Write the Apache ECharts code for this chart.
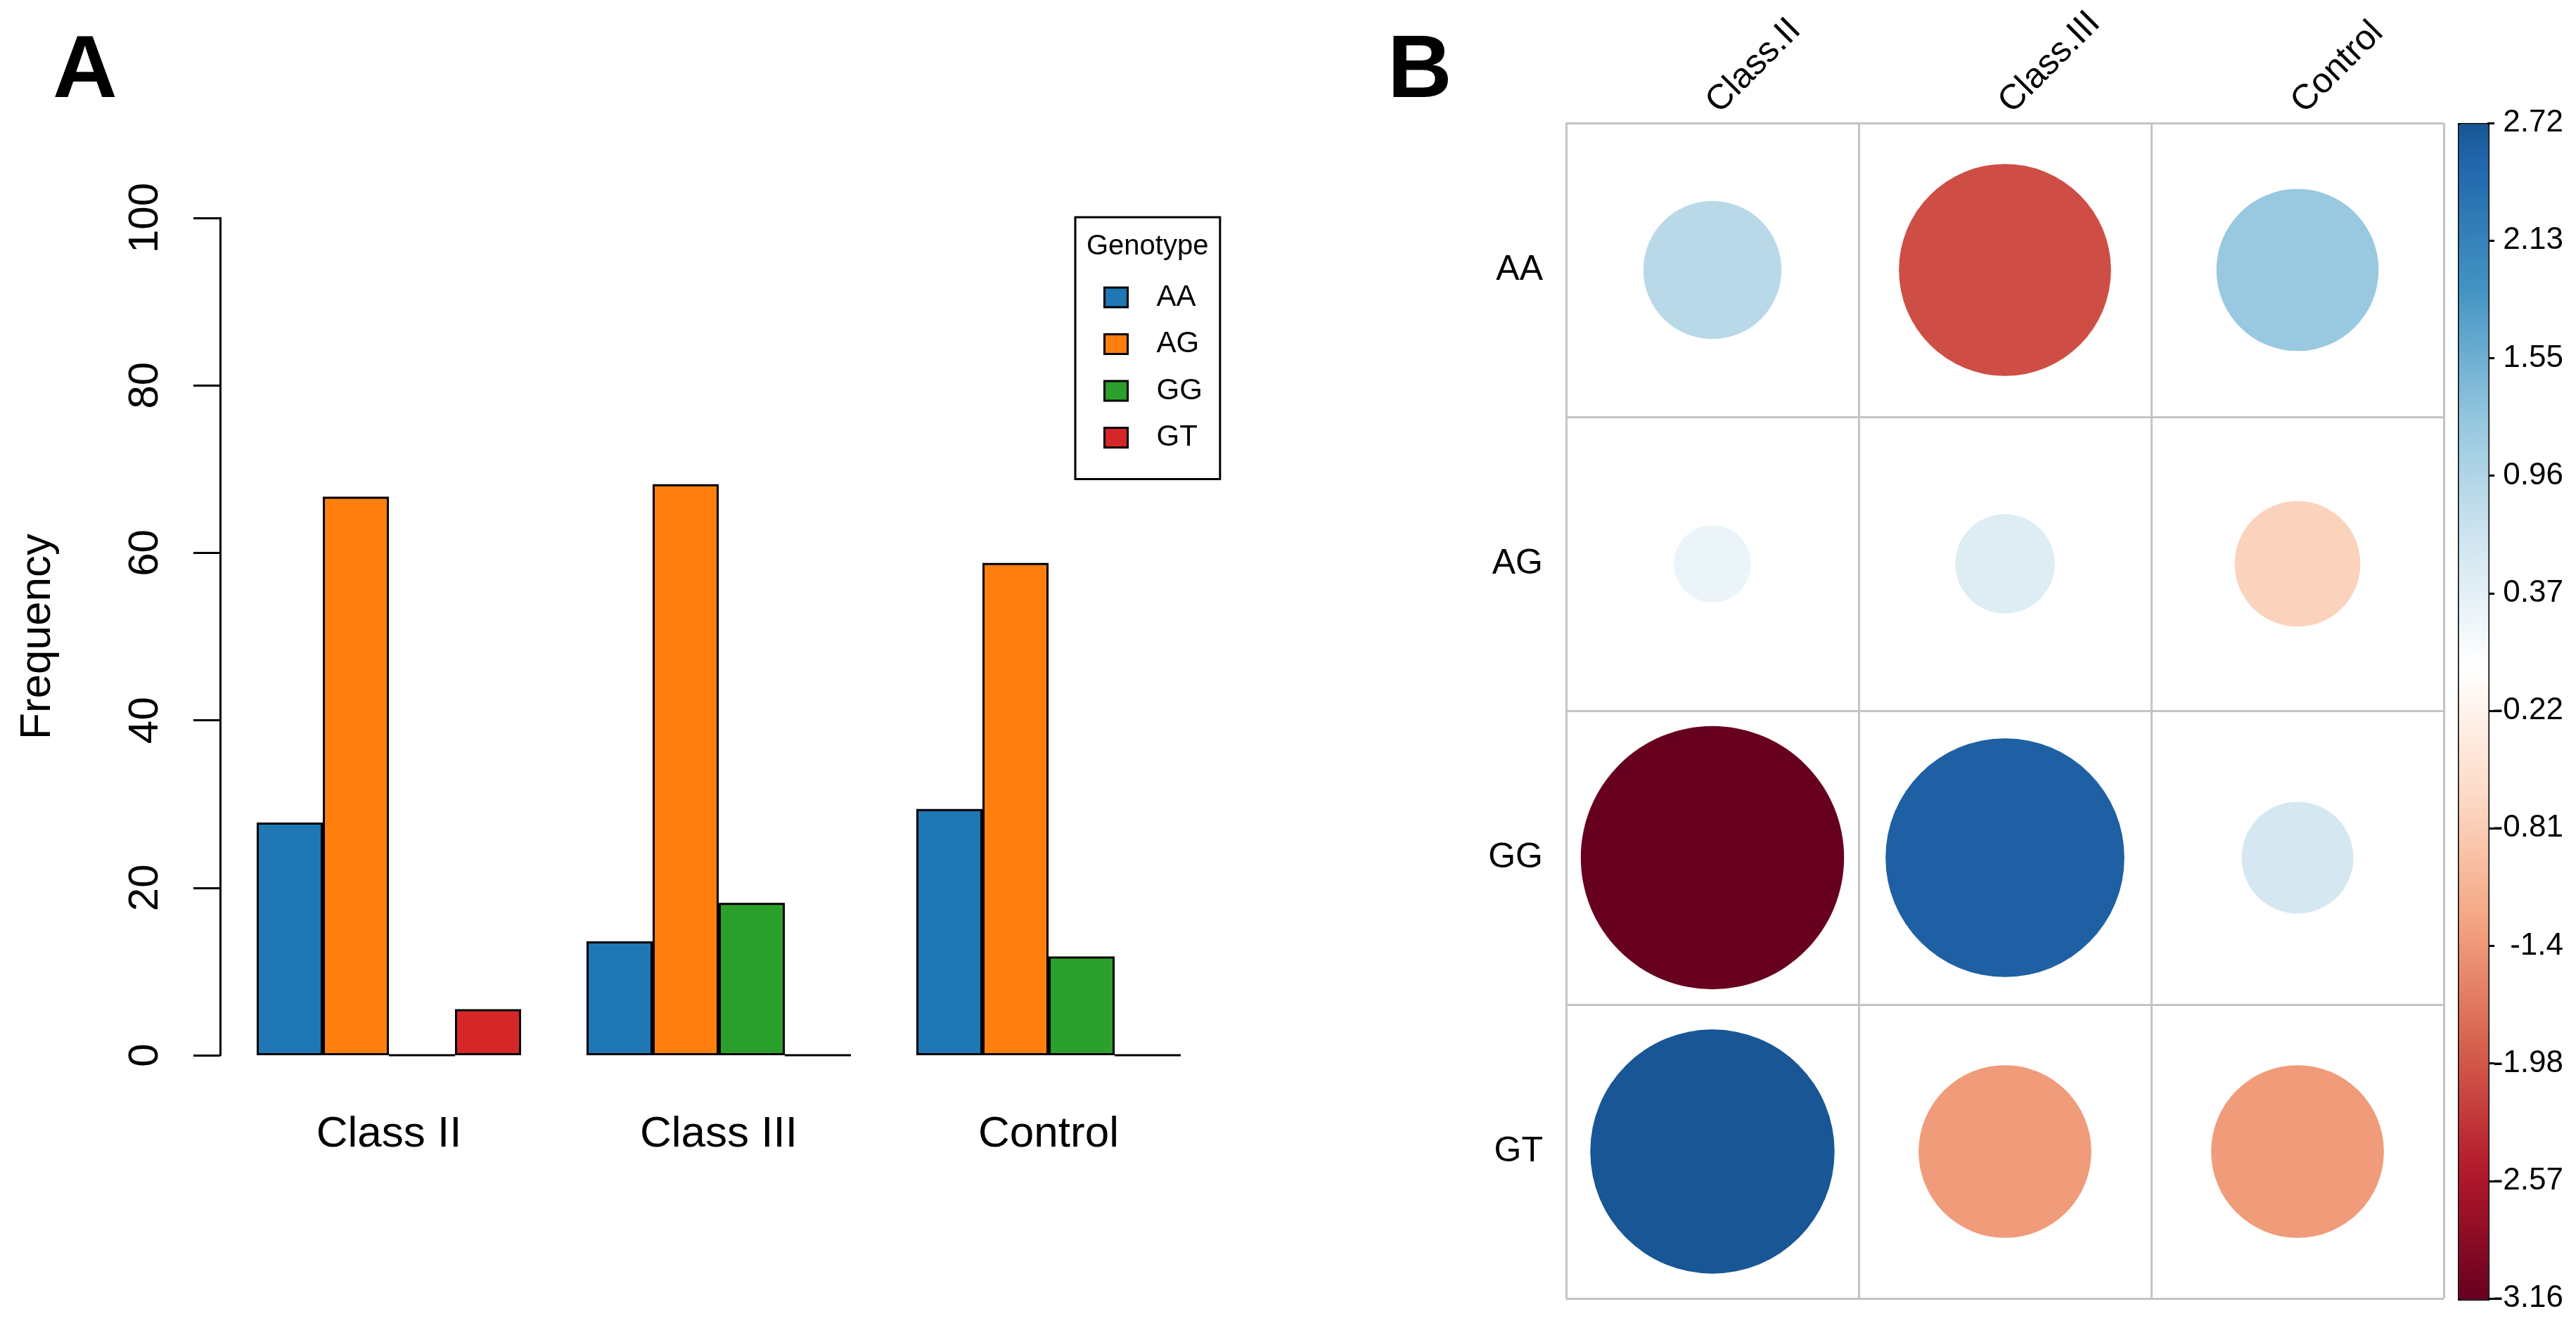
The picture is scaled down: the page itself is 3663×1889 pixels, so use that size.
<!DOCTYPE html>
<html>
<head>
<meta charset="utf-8">
<script src="https://cdn.jsdelivr.net/npm/echarts@6/dist/echarts.min.js"></script>
<style>
html,body{margin:0;padding:0;background:#fff;}
#chart{width:3663px;height:1889px;}
</style>
</head>
<body>
<div id="chart"></div>
<script>
// ---------- Panel A data ----------
var groups = ['Class II', 'Class III', 'Control'];
var genotypes = ['AA', 'AG', 'GG', 'GT'];
var freqAA = [27.8, 13.6, 29.4];
var freqAG = [66.7, 68.2, 58.8];
var freqGG = [0, 18.2, 11.8];
var freqGT = [5.5, 0, 0];
var yTicks = [0, 20, 40, 60, 80, 100];

// ---------- Panel B data ----------
var corrCols = ['Class.II', 'Class.III', 'Control'];
var corrRows = ['AA', 'AG', 'GG', 'GT'];
var resAA = [0.87, -2.05, 1.20];
var resAG = [0.27, 0.45, -0.72];
var resGG = [-3.16, 2.60, 0.57];
var resGT = [2.72, -1.36, -1.36];
var colorbarLabels = ['-3.16', '-2.57', '-1.98', '-1.4', '-0.81', '-0.22', '0.37', '0.96', '1.55', '2.13', '2.72'];
var resMin = -3.16, resMax = 2.72;

// ---------- styles ----------
var FONT = 'Liberation Sans, Arial, Helvetica, sans-serif';
var barColors = ['#1F77B4', '#FF7F0E', '#2CA02C', '#D62728'];
var RDBU = ['#67001F', '#B2182B', '#D6604D', '#F4A582', '#FDDBC7', '#FFFFFF',
            '#D1E5F0', '#92C5DE', '#4393C3', '#2166AC', '#053061'];

function hexToRgb(h) { return [parseInt(h.substr(1,2),16), parseInt(h.substr(3,2),16), parseInt(h.substr(5,2),16)]; }
function rdbu(v, L) {
  var t = (v + L) / (2 * L) * (RDBU.length - 1);
  var i = Math.max(0, Math.min(RDBU.length - 2, Math.floor(t)));
  var f = t - i;
  var a = hexToRgb(RDBU[i]), b = hexToRgb(RDBU[i + 1]);
  var c = a.map(function (x, k) { return Math.round(x + (b[k] - x) * f); });
  return 'rgb(' + c.join(',') + ')';
}
var LIM = Math.max(Math.abs(resMin), Math.abs(resMax));
var rampColors = [];
for (var s = 0; s <= 100; s++) { rampColors.push(rdbu(resMin + (resMax - resMin) * s / 100, LIM)); }

// corrplot grid layout
var CG = { left: 2227, top: 175, width: 1248, height: 1672 };
var CELL = CG.width / corrCols.length;

var resRows = [resAA, resAG, resGG, resGT];
var scatterData = [];
resRows.forEach(function (row, r) {
  row.forEach(function (v, c) { scatterData.push([c, r, v]); });
});

var freqSeries = [freqAA, freqAG, freqGG, freqGT];

var chart = echarts.init(document.getElementById('chart'), null, { renderer: 'canvas' });

var option = {
  animation: false,
  backgroundColor: '#fff',
  textStyle: { fontFamily: FONT },
  title: [
    { text: 'A', left: 70, top: 34, textStyle: { fontSize: 127, fontWeight: 'bold', color: '#000', fontFamily: FONT } },
    { text: 'B', left: 1968, top: 34, textStyle: { fontSize: 127, fontWeight: 'bold', color: '#000', fontFamily: FONT } },
    { text: 'Genotype', left: 1540, top: 326, textStyle: { fontSize: 40, fontWeight: 'normal', color: '#000', fontFamily: FONT } }
  ],
  legend: {
    data: genotypes,
    orient: 'vertical',
    left: 1529, top: 309,
    padding: [93, 25, 38, 40],
    itemWidth: 33, itemHeight: 28, itemGap: 24.5,
    icon: 'rect',
    borderColor: '#000', borderWidth: 3,
    itemStyle: { borderColor: '#000', borderWidth: 3 },
    textStyle: { fontSize: 42, color: '#000', fontFamily: FONT, padding: [0, 0, 0, 36] },
    selectedMode: false
  },
  grid: [
    { left: 318.5, top: 310, width: 1407, height: 1191 },
    { left: CG.left, top: CG.top, width: CG.width, height: CG.height, show: false },
    { left: 3495, top: 175, width: 42, height: 1672, show: false }
  ],
  xAxis: [
    {
      gridIndex: 0, type: 'category', data: groups,
      axisLine: { show: false }, axisTick: { show: false },
      axisLabel: { fontSize: 62, color: '#000', margin: 82, fontFamily: FONT }
    },
    {
      gridIndex: 1, type: 'category', data: corrCols, position: 'top',
      axisLine: { show: false }, axisTick: { show: false },
      splitLine: { show: true, interval: 0, lineStyle: { color: '#c4c4c4', width: 3 } },
      axisLabel: { rotate: -45, fontSize: 50, color: '#000', margin: 22, interval: 0, fontFamily: FONT }
    },
    {
      gridIndex: 2, type: 'category', data: ['x'], show: false
    }
  ],
  yAxis: [
    {
      gridIndex: 0, type: 'value', min: 0, max: 100, interval: 20, offset: 5.5,
      axisLine: { show: true, lineStyle: { color: '#000', width: 3 } },
      axisTick: { show: true, length: 38, lineStyle: { color: '#000', width: 3 } },
      splitLine: { show: false },
      axisLabel: { rotate: 90, fontSize: 60, color: '#000', margin: 76, fontFamily: FONT,
        customValues: yTicks },
      name: 'Frequency', nameLocation: 'middle', nameRotate: 90, nameGap: 228,
      nameTextStyle: { fontSize: 62, color: '#000', fontFamily: FONT }
    },
    {
      gridIndex: 1, type: 'category', data: corrRows, inverse: true,
      axisLine: { show: false }, axisTick: { show: false },
      splitLine: { show: true, interval: 0, lineStyle: { color: '#c4c4c4', width: 3 } },
      axisLabel: { fontSize: 50, color: '#000', margin: 33, interval: 0, fontFamily: FONT }
    },
    {
      gridIndex: 2, type: 'category', data: colorbarLabels, position: 'right', boundaryGap: false,
      axisLine: { show: false },
      axisTick: { show: true, length: 10, interval: 0, lineStyle: { color: '#000', width: 3 } },
      axisLabel: { fontSize: 44, color: '#000', align: 'right', margin: 108, interval: 0, fontFamily: FONT },
      splitLine: { show: false }
    }
  ],
  visualMap: {
    type: 'continuous',
    min: resMin, max: resMax,
    dimension: 2,
    seriesIndex: 4,
    calculable: false,
    hoverLink: false,
    left: 3495, top: 175,
    itemWidth: 42, itemHeight: 1672,
    padding: 0,
    borderColor: '#000', borderWidth: 3,
    inRange: { color: rampColors, opacity: 1 }
  },
  series: freqSeries.map(function (vals, i) {
    return {
      name: genotypes[i], type: 'bar', xAxisIndex: 0, yAxisIndex: 0,
      data: vals, barWidth: 94, barGap: '0%',
      itemStyle: { color: barColors[i], borderColor: '#000', borderWidth: 3 },
      emphasis: { disabled: true }
    };
  }).concat([{
    type: 'scatter', xAxisIndex: 1, yAxisIndex: 1,
    data: scatterData,
    symbol: 'circle',
    symbolSize: function (d) { return 0.9 * CELL * Math.sqrt(Math.abs(d[2]) / LIM); },
    itemStyle: { opacity: 1 },
    emphasis: { disabled: true },
    z: 3
  }])
};
chart.setOption(option);
</script>
</body>
</html>
